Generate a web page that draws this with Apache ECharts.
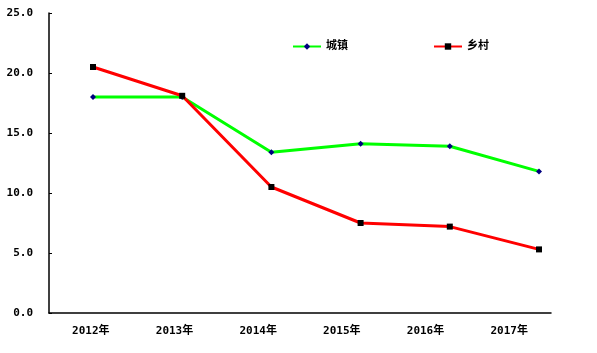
<!DOCTYPE html>
<html>
<head>
<meta charset="utf-8">
<script src="https://cdn.jsdelivr.net/npm/echarts@6/dist/echarts.min.js"></script>
<style>
  html, body { margin: 0; padding: 0; background: #fff; }
  #chart { width: 597px; height: 353px; }
</style>
</head>
<body>
<div id="chart"></div>
<script>
var years = ['2012年', '2013年', '2014年', '2015年', '2016年', '2017年'];
var urban = [18.0, 18.0, 13.4, 14.1, 13.9, 11.8];   // 城镇
var rural = [20.5, 18.1, 10.5, 7.5, 7.2, 5.3];      // 乡村
var yTicks = [0, 5, 10, 15, 20, 25];

var font = '"DejaVu Sans Mono", "Noto Sans CJK SC", monospace';
var chart = echarts.init(document.getElementById('chart'));

var axisStyle = { lineStyle: { color: '#000', width: 1.5 } };

var option = {
    animation: false,
    backgroundColor: '#fff',
    textStyle: { fontFamily: font },
    legend: {
        left: 292,
        top: 41,
        padding: 0,
        itemWidth: 28,
        itemHeight: 8,
        itemGap: 85,
        textStyle: { fontFamily: font, fontWeight: 'bold', fontSize: 11, color: '#000' },
        data: ['城镇', '乡村']
    },
    grid: [
        // 坐标轴
        { left: 49, right: 46, top: 13, bottom: 40 },
        // 折线
        { left: 93, right: 58, top: 13, bottom: 40 }
    ],
    xAxis: [{
        type: 'category',
        gridIndex: 0,
        data: years,
        boundaryGap: true,
        axisLine: axisStyle,
        axisTick: { inside: true, length: 4, lineStyle: { color: '#000' } },
        axisLabel: { color: '#000', fontWeight: 'bold', fontSize: 11, margin: 13, fontFamily: font },
        splitLine: { show: false }
    }, {
        type: 'category',
        gridIndex: 1,
        data: years,
        boundaryGap: false,
        show: false
    }],
    yAxis: [{
        type: 'value',
        gridIndex: 0,
        min: yTicks[0],
        max: yTicks[yTicks.length - 1],
        interval: 5,
        axisLine: { show: true, lineStyle: { color: '#000', width: 1.5 } },
        axisTick: { show: true, inside: true, length: 3, lineStyle: { color: '#000' } },
        axisLabel: {
            color: '#000', fontWeight: 'bold', fontSize: 11, margin: 16, fontFamily: font,
            formatter: function (v) { return v.toFixed(1); }
        },
        splitLine: { show: false }
    }, {
        type: 'value',
        gridIndex: 1,
        min: yTicks[0],
        max: yTicks[yTicks.length - 1],
        show: false
    }],
    series: [{
        name: '城镇',
        type: 'line',
        xAxisIndex: 1,
        yAxisIndex: 1,
        data: urban,
        symbol: 'diamond',
        symbolSize: 6,
        itemStyle: { color: '#000080' },
        lineStyle: { color: '#00ff00', width: 3 },
        z: 2
    }, {
        name: '乡村',
        type: 'line',
        xAxisIndex: 1,
        yAxisIndex: 1,
        data: rural,
        symbol: 'rect',
        symbolSize: 6,
        itemStyle: { color: '#000' },
        lineStyle: { color: '#ff0000', width: 3 },
        z: 3
    }]
};
chart.setOption(option);
</script>
</body>
</html>
